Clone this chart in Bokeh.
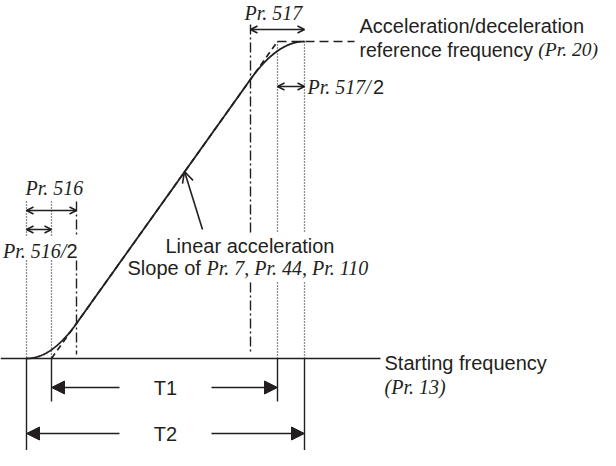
import numpy as np
from bokeh.plotting import figure
from bokeh.models import Range1d, Arrow, OpenHead, NormalHead
from bokeh.core.properties import value
from bokeh.embed import file_html
from bokeh.resources import INLINE

# ---- diagram values (time units ~ px, frequency units ~ px) ----
pr516 = 50          # S-pattern time at start of acceleration (Pr. 516)
pr517 = 54          # S-pattern time at end of acceleration (Pr. 517)
t1 = 226            # linear acceleration time T1
ref_freq = 317      # acceleration/deceleration reference frequency (Pr. 20)
start_freq = 0      # starting frequency (Pr. 13)
plateau_end = 328   # end of drawn reference-frequency dashed line

labels_right = ["Acceleration/deceleration", "reference frequency ", "(Pr. 20)"]
labels_start = ["Starting frequency", "(Pr. 13)"]
labels_slope = ["Linear acceleration", "Slope of ", "Pr. 7, Pr. 44, Pr. 110"]

# derived times
t_lin_start = pr516 / 2
t_lin_end = t_lin_start + t1
t2 = pr516 / 2 + t1 + pr517 / 2
t517_start = t2 - pr517
slope = (ref_freq - start_freq) / t1

INK = "#231f20"
SANS = value("Liberation Sans")
SERIF = value("Liberation Serif")
FS = "20px"
DOT = "1 2"
DASHDOT = "10 3 2 3"

p = figure(width=600, height=450, x_range=Range1d(-26, 574), y_range=Range1d(-92, 358),
           output_backend="svg", toolbar_location=None, min_border=0,
           x_axis_location=None, y_axis_location=None)
p.grid.visible = False
p.outline_line_color = None

# ---- frequency curve (S-pattern) ----
tt = np.linspace(0, t2, 600)
ff = np.where(tt < pr516, slope / (2 * pr516) * tt ** 2,
              np.where(tt > t517_start, ref_freq - slope / (2 * pr517) * (t2 - tt) ** 2,
                       slope * (tt - t_lin_start)))
p.line(tt, ff, line_color=INK, line_width=1.8)

# linear acceleration (dashed)
p.line([t_lin_start, t_lin_end], [start_freq, ref_freq], line_color=INK, line_width=1.7, line_dash="6 4")
# reference frequency plateau (dashed)
p.line([t_lin_end, plateau_end], [ref_freq, ref_freq], line_color=INK, line_width=1.7, line_dash="9 5")

# baseline (starting frequency)
p.line([-26, 354], [start_freq, start_freq], line_color=INK, line_width=1.6)

# ---- guide lines at start (broken around the Pr. 516/2 label) ----
for xv in [0, t_lin_start]:
    p.line([xv, xv], [157, 123], line_color=INK, line_width=1.3, line_dash=DOT)
    p.line([xv, xv], [98, 0], line_color=INK, line_width=1.3, line_dash=DOT)
p.line([pr516, pr516], [157, 123], line_color=INK, line_width=1.4, line_dash=DASHDOT)
p.line([pr516, pr516], [98, 4], line_color=INK, line_width=1.4, line_dash=DASHDOT)

# ---- guide lines at end (broken around the slope labels) ----
p.line([t517_start, t517_start], [334, 126], line_color=INK, line_width=1.4, line_dash=DASHDOT)
p.line([t517_start, t517_start], [76, 4], line_color=INK, line_width=1.4, line_dash=DASHDOT)
for xv in [t_lin_end, t2]:
    p.line([xv, xv], [ref_freq, 126], line_color=INK, line_width=1.3, line_dash=DOT)
    p.line([xv, xv], [76, 0], line_color=INK, line_width=1.3, line_dash=DOT)

# ---- T1 / T2 dimension lines ----
for xv in [t_lin_start, t_lin_end]:
    p.line([xv, xv], [0, -43], line_color=INK, line_width=1.4)
for xv in [0, t2]:
    p.line([xv, xv], [0, -95], line_color=INK, line_width=1.4)

def arrow(x0, y0, x1, y1, head):
    p.add_layout(Arrow(end=head, x_start=x0, y_start=y0, x_end=x1, y_end=y1,
                       line_color=INK, line_width=1.6))

def big_head():
    return NormalHead(size=13, fill_color=INK, line_color=INK)

def small_head():
    return OpenHead(size=7, line_color=INK, line_width=1.6)

y_t1, y_t2 = -29, -75
arrow(93, y_t1, t_lin_start, y_t1, big_head())
arrow(185, y_t1, t_lin_end, y_t1, big_head())
arrow(93, y_t2, 0, y_t2, big_head())
arrow(185, y_t2, t2, y_t2, big_head())

# double arrows
def dbl(x0, x1, y):
    p.add_layout(Arrow(start=small_head(), end=small_head(), x_start=x0, y_start=y, x_end=x1, y_end=y,
                       line_color=INK, line_width=1.6))

dbl(0, pr516, 148)
dbl(0, t_lin_start, 129)
dbl(t517_start, t2, 329)
dbl(t_lin_end, t2, 272)

# pointer to slope
p.add_layout(Arrow(end=OpenHead(size=11, line_color=INK, line_width=1.6),
                   x_start=176, y_start=129, x_end=158, y_end=187,
                   line_color=INK, line_width=1.6))

def txt(x, y, s, font, italic=False, align="left", size=FS):
    p.text([x], [y], text=[s], text_font=font, text_font_size=size,
           text_font_style="italic" if italic else "normal",
           text_align=align, text_baseline="middle", text_color=INK)

# labels
txt(-1, 171, "Pr. 516", SERIF, True)
txt(51, 108, "2", SANS, align="right")
txt(39.9, 108, "Pr. 516/", SERIF, True, align="right")

txt(218, 346, "Pr. 517", SERIF, True)
txt(281, 272, "Pr. 517/", SERIF, True)
txt(281 + 65.6, 272, "2", SANS)

txt(333, 333, labels_right[0], SANS)
txt(333, 309, labels_right[1], SANS, size="19.5px")
txt(333 + 178.8, 309, labels_right[2], SERIF, True, size="19.5px")

txt(358, -4, labels_start[0], SANS)
txt(358, -28, labels_start[1], SERIF, True)

txt(139, 113, labels_slope[0], SANS)
txt(101, 91, labels_slope[1], SANS)
txt(101 + 79, 91, labels_slope[2], SERIF, True)

txt(139, y_t1, "T1", SANS, align="center")
txt(139, y_t2, "T2", SANS, align="center")

open("out.html", "w").write(file_html(p, INLINE))
